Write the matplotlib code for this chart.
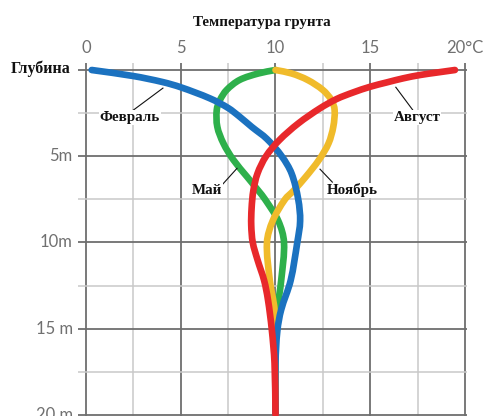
import numpy as np
import matplotlib
matplotlib.use("Agg")
import matplotlib.pyplot as plt
from matplotlib.path import Path
from matplotlib.patches import PathPatch

# ---------------- data ----------------
title = "Температура грунта"
x_ticks = [0, 5, 10, 15, 20]
x_tick_labels = ["0", "5", "10", "15", "20°C"]
y_ticks = [0, 5, 10, 15, 20]
y_tick_labels = ["Глубина", "5m", "10m", "15 m", "20 m"]

feb_temp = [0.3, 2.5, 4.05, 5.0, 6.55, 7.5, 8.1, 8.75, 9.55, 10.33, 10.85, 11.2, 11.3, 11.15, 10.8, 10.3, 10.1, 10.0, 10.0]
feb_depth = [0, 0.35, 0.7, 1.0, 1.65, 2.2, 2.7, 3.3, 4.0, 5.0, 6.0, 7.5, 8.75, 10, 12.2, 13.9, 15.1, 17, 20]

may_temp = [10, 9.1, 8.1, 7.42, 7.07, 6.9, 6.93, 7.25, 7.77, 8.5, 9.1, 9.45, 10.15, 10.45, 10.3, 10.1, 10.0, 10.0]
may_depth = [0, 0.2, 0.58, 1.16, 1.74, 2.32, 3.29, 4.25, 5.2, 6.19, 7.0, 7.5, 8.75, 10, 12.2, 13.9, 16, 20]

nov_temp = [10, 10.85, 11.7, 12.5, 12.95, 13.12, 13.05, 12.8, 12.3, 11.6, 10.95, 10.5, 9.85, 9.55, 9.7, 9.95, 10.0, 10.0]
nov_depth = [0, 0.2, 0.58, 1.16, 1.74, 2.32, 3.29, 4.25, 5.2, 6.19, 7.0, 7.5, 8.75, 10, 12.2, 13.9, 16, 20]

aug_temp = [19.47, 18.5, 17.63, 16.75, 15.87, 15.0, 14.1, 13.23, 12.35, 11.2, 10.2, 9.5, 9.05, 8.83, 8.74, 8.72, 8.8, 9.05, 9.4, 9.6, 9.8, 9.95, 10.0]
aug_depth = [0, 0.15, 0.29, 0.48, 0.72, 0.97, 1.3, 1.68, 2.22, 3.1, 4.07, 5.0, 6.0, 7.0, 8.0, 9.0, 10, 11, 12.2, 13.3, 15, 17, 20]

series_names = ["Февраль", "Май", "Ноябрь", "Август"]

# ---------------- figure ----------------
W, H = 484, 416
fig = plt.figure(figsize=(W / 100, H / 100), dpi=100)
ax = fig.add_axes([0, 0, 1, 1])
ax.set_xlim(-4.538, 21.003)
ax.set_ylim(20.058, -4.058)
ax.axis("off")

MAJOR = "#6e6e6e"
MINOR = "#c9c9c9"

# grid
for v in np.arange(0, 20.1, 2.5):
    major = (v % 5 == 0)
    ax.plot([v, v], [-0.4, 20.5], color=MAJOR if major else MINOR,
            lw=1.3 if major else 1.1, zorder=1, solid_capstyle="butt")
for h in np.arange(0, 20.1, 2.5):
    major = (h % 5 == 0)
    ax.plot([-0.42, 20.1], [h, h], color=MAJOR if major else MINOR,
            lw=1.3 if major else 1.1, zorder=1, solid_capstyle="butt")

SX, SY = 18.95, 17.25  # px per unit, used only for chord-length parameterisation


def smooth_path(xs, ys):
    pts = np.column_stack([xs, ys]).astype(float)
    n = len(pts)
    scaled = pts * np.array([SX, SY])
    seg = np.linalg.norm(np.diff(scaled, axis=0), axis=1)
    seg = np.maximum(seg, 1e-6)
    t = np.concatenate([[0], np.cumsum(seg)])
    tang = np.zeros_like(pts)
    for i in range(n):
        if i == 0:
            tang[i] = (pts[1] - pts[0]) / (t[1] - t[0])
        elif i == n - 1:
            tang[i] = (pts[-1] - pts[-2]) / (t[-1] - t[-2])
        else:
            tang[i] = (pts[i + 1] - pts[i - 1]) / (t[i + 1] - t[i - 1])
    verts = [pts[0]]
    codes = [Path.MOVETO]
    for i in range(n - 1):
        h = t[i + 1] - t[i]
        c1 = pts[i] + tang[i] * h / 3.0
        c2 = pts[i + 1] - tang[i + 1] * h / 3.0
        verts += [c1, c2, pts[i + 1]]
        codes += [Path.CURVE4] * 3
    return Path(verts, codes)


curves = [
    (may_temp, may_depth, "#2eb04b", 3),
    (nov_temp, nov_depth, "#f0bb2b", 4),
    (feb_temp, feb_depth, "#1b72c0", 5),
    (aug_temp, aug_depth, "#e8282b", 6),
]
for tt, d, c, z in curves:
    patch = PathPatch(smooth_path(tt, d), facecolor="none", edgecolor=c,
                      lw=4.8, capstyle="round", joinstyle="round", zorder=z)
    ax.add_patch(patch)

# tick labels
tick_font = dict(family=["Lato", "DejaVu Sans"], fontsize=12, color="#707070")
for v, lab in zip(x_ticks, x_tick_labels):
    ax.text(v, -1.3, lab, ha="center", va="center", **tick_font)
for h, lab in zip(y_ticks, y_tick_labels):
    if h == 0:
        ax.text(-0.8, h - 0.1, lab, ha="right", va="center", family=["Liberation Serif", "DejaVu Serif"],
                fontsize=11.5, fontweight="bold", color="#111111")
    else:
        ax.text(-0.7, h, lab, ha="right", va="center", **tick_font)

# title
ax.text(9.3, -2.75, title, ha="center", va="center", family=["Liberation Serif", "DejaVu Serif"],
        fontsize=10.8, fontweight="bold", color="#111111")

# annotations
lab_font = dict(family=["Liberation Serif", "DejaVu Serif"], fontsize=10.8, fontweight="bold",
                color="#111111", ha="center", va="center", zorder=8)
ann = [
    ("Февраль", (2.32, 2.75), (2.48, 2.34), (4.06, 1.05)),
    ("Август", (17.47, 2.75), (17.4, 2.55), (16.35, 1.0)),
    ("Май", (6.4, 6.98), (7.23, 6.6), (7.97, 5.7)),
    ("Ноябрь", (14.04, 6.98), (13.0, 6.5), (12.35, 5.75)),
]
for name, tpos, a, b in ann:
    ax.plot([a[0], b[0]], [a[1], b[1]], color="#111111", lw=0.8, zorder=7)
    ax.text(tpos[0], tpos[1], name, bbox=dict(facecolor="white", edgecolor="none", pad=0.5), **lab_font)

fig.savefig("out.png", dpi=100)
